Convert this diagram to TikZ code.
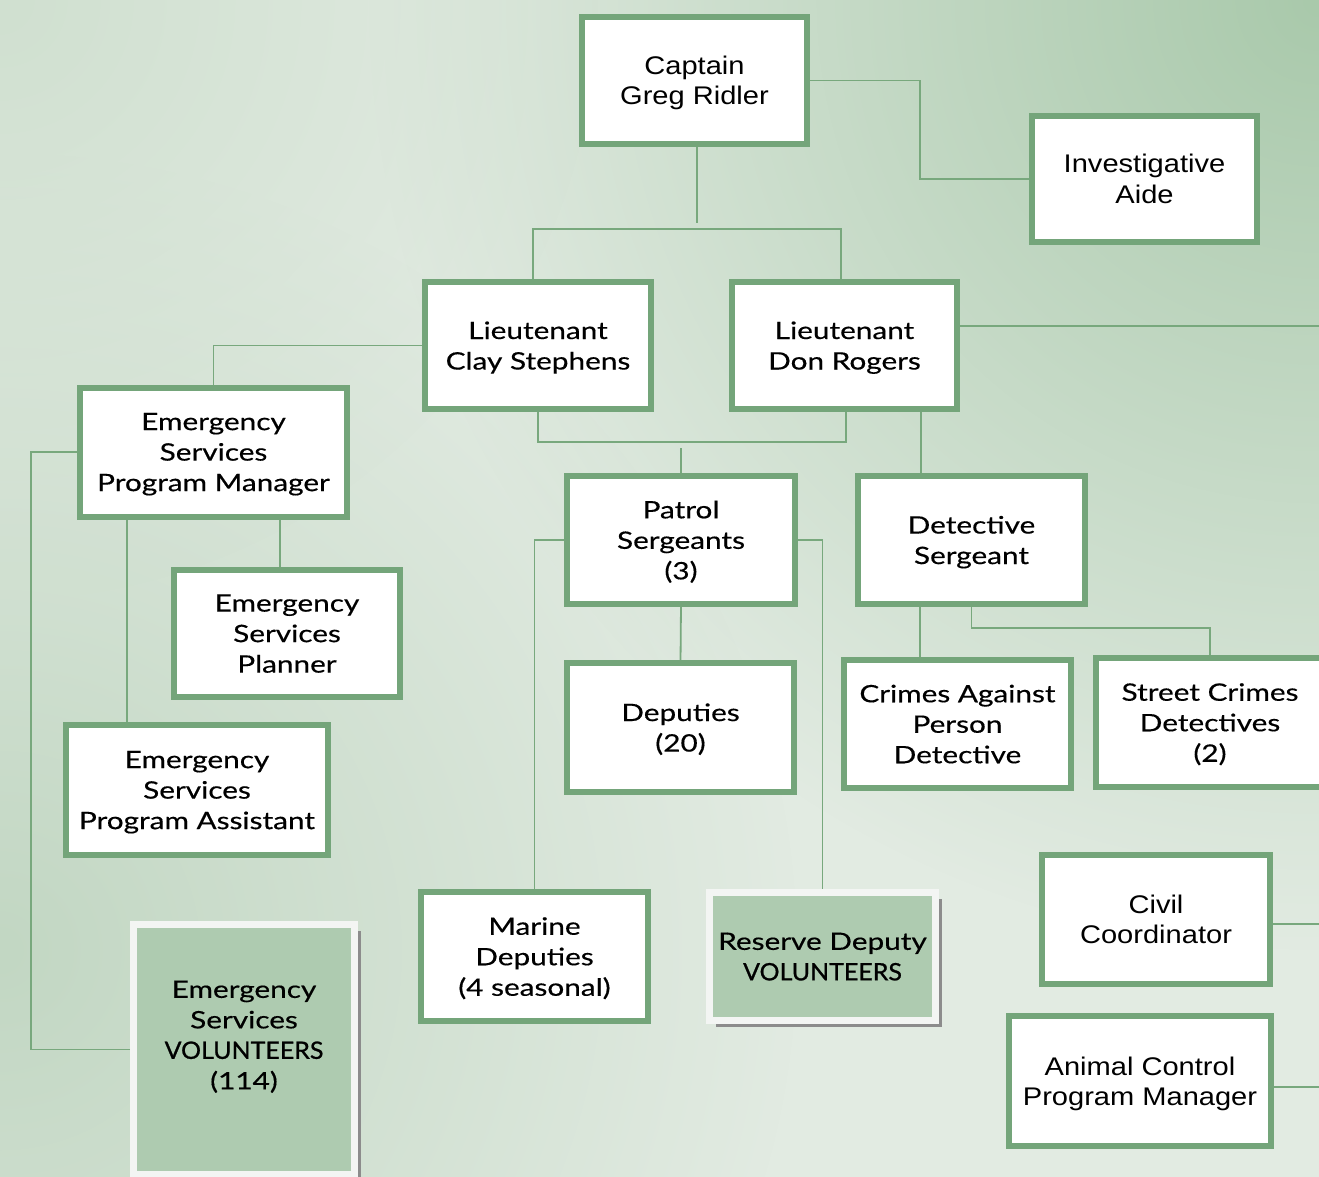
\documentclass[tikz,border=0pt]{standalone}
\usepackage{fontspec}
\setmainfont{Lato}
\newfontfamily\gothic[FakeStretch=1.24,FakeBold=0.4]{Lato}
\newfontfamily\gothiccaps[FakeStretch=1.04,FakeBold=0.9]{Lato}
\newfontfamily\arial[FakeStretch=1.14]{Liberation Sans}
\usetikzlibrary{fadings,shadows}

\tikzfading[name=softglow, inner color=transparent!0, outer color=transparent!100]

\definecolor{bgbase}{HTML}{E2EBE2}
\definecolor{bgtr}{HTML}{A9C9AB}
\definecolor{bgleft}{HTML}{C2D7C3}
\definecolor{bgtl}{HTML}{D0E0D0}
\definecolor{frame}{HTML}{74A57A}
\definecolor{linkc}{HTML}{78A87D}
\definecolor{volfill}{HTML}{AECBB0}
\definecolor{volrim}{HTML}{F3F5F3}

\newcommand\volword{{\gothiccaps VOLUNTEERS}}

\pgfdeclarelayer{bglayer}
\pgfdeclarelayer{linklayer}
\pgfsetlayers{bglayer,linklayer,main}

\begin{document}
\begin{tikzpicture}[x=1pt,y=-1pt,
  box/.style={draw=frame, line width=6pt, fill=white, inner sep=0pt, outer sep=0pt,
    align=center, text=black, text depth=0pt, font=\gothic\fontsize{24}{30.5}\selectfont},
  abox/.style={box, font=\arial\fontsize{25.5}{30.5}\selectfont},
  volbox/.style={draw=volrim, line width=7pt, fill=volfill, inner sep=0pt, outer sep=0pt,
    align=center, text=black, text depth=0pt, font=\gothic\fontsize{24}{30.5}\selectfont,
    drop shadow={shadow xshift=6.5pt, shadow yshift=-6.5pt, fill=black!45, opacity=1}},
  voltext/.style={align=center, text=black, inner sep=0pt, text depth=0pt,
    font=\gothic\fontsize{24}{30.5}\selectfont},
  link/.style={draw=linkc, line width=1.8pt}]

\useasboundingbox (0,0) rectangle (1319,1177);

% soft green backdrop
\begin{pgfonlayer}{bglayer}
  \clip (0,0) rectangle (1319,1177);
  \fill[bgbase] (0,0) rectangle (1319,1177);
  \fill[bgtr, path fading=softglow] (1319,0) circle (950);
  \fill[bgleft, path fading=softglow] (0,950) circle (800);
  \fill[bgtl, path fading=softglow] (0,0) circle (600);
\end{pgfonlayer}

% command
\node[abox, minimum width=225pt, minimum height=127pt] (cap) at (694.5,80.5) {Captain\\Greg Ridler};
\node[abox, minimum width=225pt, minimum height=126pt] (aide) at (1144.5,179) {Investigative\\Aide};
\node[box, minimum width=226pt, minimum height=127pt] (ltc) at (538,345.5) {Lieutenant\\Clay Stephens};
\node[box, minimum width=225pt, minimum height=127pt] (ltd) at (844.5,345.5) {Lieutenant\\Don Rogers};

% emergency services
\node[box, minimum width=267pt, minimum height=129pt] (espm) at (213.5,452) {Emergency\\Services\\Program Manager};
\node[box, minimum width=226pt, minimum height=127pt] (esp) at (287,633.5) {Emergency\\Services\\Planner};
\node[box, minimum width=262pt, minimum height=130pt] (espa) at (197,790) {Emergency\\Services\\Program Assistant};
\node[volbox, minimum width=221pt, minimum height=250pt] (esv) at (244,1049.5) {};
\node[voltext] (esvt) at (244,1035) {Emergency\\Services\\\volword\\(114)};

% patrol
\node[box, minimum width=228pt, minimum height=128pt] (pat) at (681,540) {Patrol\\Sergeants\\(3)};
\node[box, minimum width=227pt, minimum height=129pt] (dep) at (680.5,727.5) {Deputies\\(20)};
\node[box, minimum width=227pt, minimum height=129pt] (mar) at (534.5,956.5) {Marine\\Deputies\\(4 seasonal)};
\node[volbox, minimum width=226pt, minimum height=128pt] (res) at (822.5,956.5) {Reserve Deputy\\\volword};

% investigations
\node[box, minimum width=227pt, minimum height=128pt] (det) at (971.5,540) {Detective\\Sergeant};
\node[box, minimum width=227pt, minimum height=128pt] (crm) at (957.5,724) {Crimes Against\\Person\\Detective};
\node[box, minimum width=228pt, minimum height=129pt] (str) at (1210,722.5) {Street Crimes\\Detectives\\(2)};

% civil and animal control
\node[abox, minimum width=228pt, minimum height=129pt] (civ) at (1156,919.5) {Civil\\Coordinator};
\node[abox, minimum width=262pt, minimum height=130pt] (ani) at (1140,1081) {Animal Control\\Program Manager};

% reporting lines
\begin{pgfonlayer}{linklayer}
  \draw[link] (cap.south) ++(2.5pt,0) -- ++(0,79);
  \draw[link] ([xshift=-5pt]ltc.north) -- ++(0,-53) -| ([xshift=-3.5pt]ltd.north);
  \draw[link] (cap.east) -- ++(113,0) |- (aide.west);
  \draw[link] ([yshift=19.5pt]ltd.east) -- ++(400,0);

  \draw[link] (ltc.west) -| (espm.north);
  \draw[link] (espm.west) -- ++(-49,0) |- (esv.west);
  \draw[link] ([xshift=-86.5pt]espm.south) -- ([xshift=-70pt]espa.north);
  \draw[link] ([xshift=66.5pt]espm.south) -- ([xshift=-7pt]esp.north);

  \draw[link] (ltc.south) -- ++(0,33) -| ([xshift=1.5pt]ltd.south);
  \draw[link] (pat.north) -- ++(0,-28);
  \draw[link] ([xshift=76.5pt]ltd.south) -- ([xshift=-50.5pt]det.north);

  \draw[link] (pat.west) -| (mar.north);
  \draw[link] (pat.east) -| (res.north);
  \draw[link] (pat.south) -- (dep.north);

  \draw[link] ([xshift=-51.5pt]det.south) -- ([xshift=-37.5pt]crm.north);
  \draw[link] (det.south) -- ++(0,24) -| (str.north);

  \draw[link] ([yshift=-4.5pt]civ.east) -- ++(100,0);
  \draw[link] ([yshift=-6pt]ani.east) -- ++(100,0);
\end{pgfonlayer}
\end{tikzpicture}
\end{document}
